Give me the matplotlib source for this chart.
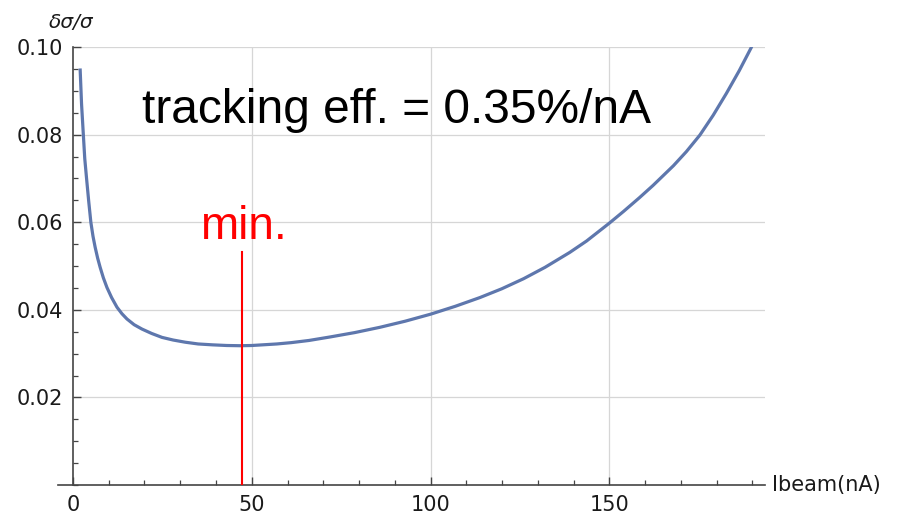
"""Relative error on sigma vs beam current (tracking eff. = 0.35%/nA)."""

import matplotlib
matplotlib.use("Agg")
import matplotlib.pyplot as plt
from matplotlib.ticker import MultipleLocator

# values
ibeam = [2.0, 2.4, 2.9, 3.3, 3.8, 4.4, 5.0, 5.6, 6.2, 6.9, 7.6, 8.5, 9.5,
         10.8, 12.3, 13.7, 15.1, 17.1, 19.3, 22.0, 24.9, 28.0, 31.4, 35.0,
         39.0, 43.0, 46.7, 50.0, 53.0, 57.0, 61.0, 66.0, 71.9, 78.8, 85.8,
         92.9, 100.0, 106.9, 113.8, 119.9, 126.0, 132.0, 138.9, 143.6,
         150.0, 154.0, 158.4, 162.2, 167.9, 171.5, 175.3, 179.0, 182.7,
         186.3, 189.8]
rel_err = [0.0951, 0.0870, 0.0800, 0.0745, 0.0700, 0.0648, 0.0600, 0.0568,
           0.0543, 0.0518, 0.0497, 0.0473, 0.0451, 0.0428, 0.0406, 0.0391,
           0.0379, 0.0366, 0.0356, 0.0346, 0.0337, 0.0331, 0.0326, 0.0322,
           0.0320, 0.03185, 0.0318, 0.03185, 0.0320, 0.0322, 0.0325, 0.0330,
           0.0338, 0.0348, 0.0360, 0.0374, 0.0390, 0.0408, 0.0428, 0.0448,
           0.0471, 0.0497, 0.0531, 0.0557, 0.0598, 0.0625, 0.0656, 0.0684,
           0.0729, 0.0761, 0.0799, 0.0844, 0.0894, 0.0946, 0.1001]

min_x = 47.2
min_line = [0.0, 0.0533]

x_major = [0, 50, 100, 150]
y_major = [0.02, 0.04, 0.06, 0.08, 0.10]
y_labels = ["0.02", "0.04", "0.06", "0.08", "0.10"]

fig = plt.figure(figsize=(9.01, 5.18), dpi=100)
ax = fig.add_axes([58.3 / 901, 33 / 518, (765 - 58.3) / 901, (485 - 47) / 518])

ax.set_xlim(-4.1, 193.5)
ax.set_ylim(0, 0.10)

# light grid
for gx in [50, 100, 150]:
    ax.plot([gx, gx], [0, 0.10], color="#d6d6d6", lw=0.9, zorder=1)
for gy in y_major:
    ax.plot([0, 193.5], [gy, gy], color="#d6d6d6", lw=0.9, zorder=1)

ax.plot(ibeam, rel_err, color="#5e77ad", lw=2.3, solid_capstyle="butt",
        solid_joinstyle="round", zorder=3)
ax.plot([min_x, min_x], min_line, color="#ff0000", lw=1.5, zorder=4)

ax.text(19.4, 0.0826, "tracking eff. = 0.35%/nA", fontsize=34.5,
        family="Liberation Sans", color="black", ha="left", va="baseline")
ax.text(35.4, 0.0561, "min.", fontsize=33, family="Liberation Sans",
        color="#ff0000", ha="left", va="baseline")

# axes through the origin, Mathematica style
for s in ["top", "right"]:
    ax.spines[s].set_visible(False)
ax.spines["left"].set_position(("data", 0))
ax.spines["left"].set_bounds(0, 0.10)
for s in ["left", "bottom"]:
    ax.spines[s].set_color("#444444")
    ax.spines[s].set_linewidth(1.2)

ax.set_xticks(x_major)
ax.set_xticklabels([str(v) for v in x_major])
ax.xaxis.set_minor_locator(MultipleLocator(10))
ax.set_yticks(y_major)
ax.set_yticklabels(y_labels)
ax.yaxis.set_minor_locator(MultipleLocator(0.005))
ax.tick_params(axis="both", which="major", direction="in", length=6, width=1.0,
               color="#444444", labelsize=15, labelcolor="#1a1a1a", pad=7)
ax.tick_params(axis="both", which="minor", direction="in", length=3.5, width=0.9,
               color="#444444")

ax.text(1.01, 0.0, "Ibeam(nA)", transform=ax.transAxes, fontsize=15,
        color="#1a1a1a", ha="left", va="center")
fig.text(71 / 901, 1 - 22 / 518, "δσ/σ", fontsize=14.5, style="italic",
         color="#1a1a1a", ha="center", va="center")

fig.savefig("out.png", dpi=100)
